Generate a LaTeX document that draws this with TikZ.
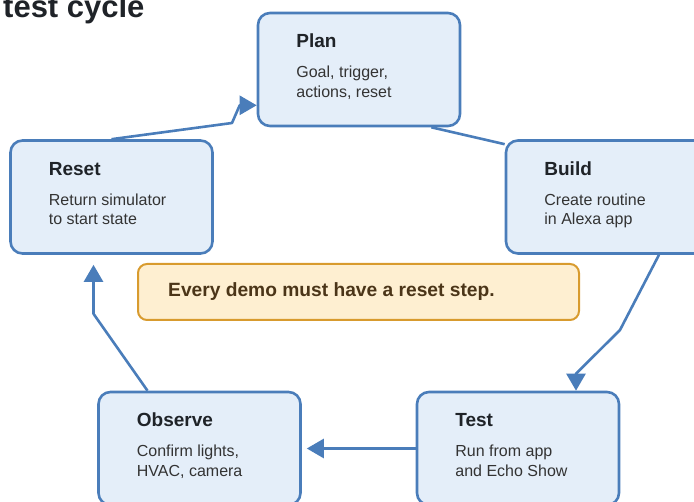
\documentclass[tikz,border=0pt]{standalone}
\usepackage{fontspec}
\setmainfont{Liberation Sans}
\usetikzlibrary{positioning,calc,arrows.meta}
\definecolor{stepfill}{HTML}{E4EEF9}
\definecolor{stepline}{HTML}{4A7DBA}
\definecolor{notefill}{HTML}{FEEFD1}
\definecolor{noteline}{HTML}{D89B2E}
\definecolor{noteink}{HTML}{4B3518}
\definecolor{titleink}{HTML}{1F2328}
\definecolor{descink}{HTML}{333333}
\tikzset{%
  stepbox/.style={%
    draw=stepline,
    fill=stepfill,
    line width=2.6pt,
    rounded corners=12pt,
    minimum width=202pt,
    minimum height=113pt,
    inner sep=0pt
  },
  steptitle/.style={%
    anchor=base west,
    inner sep=0pt,
    text=titleink,
    font=\fontsize{19}{22}\selectfont\bfseries
  },
  stepdesc/.style={%
    anchor=north west,
    inner sep=0pt,
    align=left,
    text=descink,
    font=\fontsize{16}{19.5}\selectfont
  },
  notebox/.style={%
    draw=noteline,
    fill=notefill,
    line width=2pt,
    rounded corners=9pt,
    minimum width=441pt,
    minimum height=56pt,
    inner sep=0pt
  },
  link/.style={%
    draw=stepline,
    line width=2.6pt,
    line join=round
  },
  flow/.style={%
    link,
    -{Triangle[length=17pt,width=19pt]}
  }
}

\begin{document}
\begin{tikzpicture}[x=1pt,y=-1pt]
  \useasboundingbox (0,0) rectangle (694,502);
  \clip (0,0) rectangle (694,502);

  \node[anchor=base west, inner sep=0pt, text=titleink,
        font=\fontsize{31}{36}\selectfont\bfseries] (title) at (3,18) {test cycle};

  % the five steps
  \node[stepbox] (plan)    at (359,69.5)  {};
  \node[stepbox] (build)   at (607,197)   {};
  \node[stepbox] (test)    at (518,448.5) {};
  \node[stepbox] (observe) at (199.5,448.5) {};
  \node[stepbox] (reset)   at (111.5,197) {};

  \node[steptitle] (plantitle) at ($(plan.north west)+(39.5,36)$) {Plan};
  \node[stepdesc]  (plandesc)  at ($(plan.north west)+(39.5,54.5)$) {Goal, trigger,\\actions, reset};
  \node[steptitle] (buildtitle) at ($(build.north west)+(39.5,36)$) {Build};
  \node[stepdesc]  (builddesc)  at ($(build.north west)+(39.5,54.5)$) {Create routine\\in Alexa app};
  \node[steptitle] (testtitle) at ($(test.north west)+(39.5,36)$) {Test};
  \node[stepdesc]  (testdesc)  at ($(test.north west)+(39.5,54.5)$) {Run from app\\and Echo Show};
  \node[steptitle] (observetitle) at ($(observe.north west)+(39.5,36)$) {Observe};
  \node[stepdesc]  (observedesc)  at ($(observe.north west)+(39.5,54.5)$) {Confirm lights,\\HVAC, camera};
  \node[steptitle] (resettitle) at ($(reset.north west)+(39.5,36)$) {Reset};
  \node[stepdesc]  (resetdesc)  at ($(reset.north west)+(39.5,54.5)$) {Return simulator\\to start state};

  % note
  \node[notebox] (note) at (358.5,292) {};
  \node[anchor=base west, inner sep=0pt, text=noteink,
        font=\fontsize{19.2}{22}\selectfont\bfseries] (notetext)
        at ($(note.north west)+(31,34)$) {Every demo must have a reset step.};

  % cycle
  \draw[flow] (reset.north) -- (232,123)
    -- ($(plan.south west)+(-17,-22)$) -- ($(plan.south west)+(0,-22)$);
  \draw[link] ($(plan.south east)+(-30,0)$) -- ($(build.north west)+(0,5)$);
  \draw[flow] ($(build.south)+(52,0)$) -- (620,330)
    -- ($(test.north)+(58,-17)$) -- ($(test.north)+(58,0)$);
  \draw[flow, shorten >=5pt] (test.west) -- (observe.east);
  \draw[flow] ($(observe.north)+(-52,0)$) -- ($(reset.south)+(-18,59)$)
    -- ($(reset.south)+(-18,10)$);
\end{tikzpicture}
\end{document}
